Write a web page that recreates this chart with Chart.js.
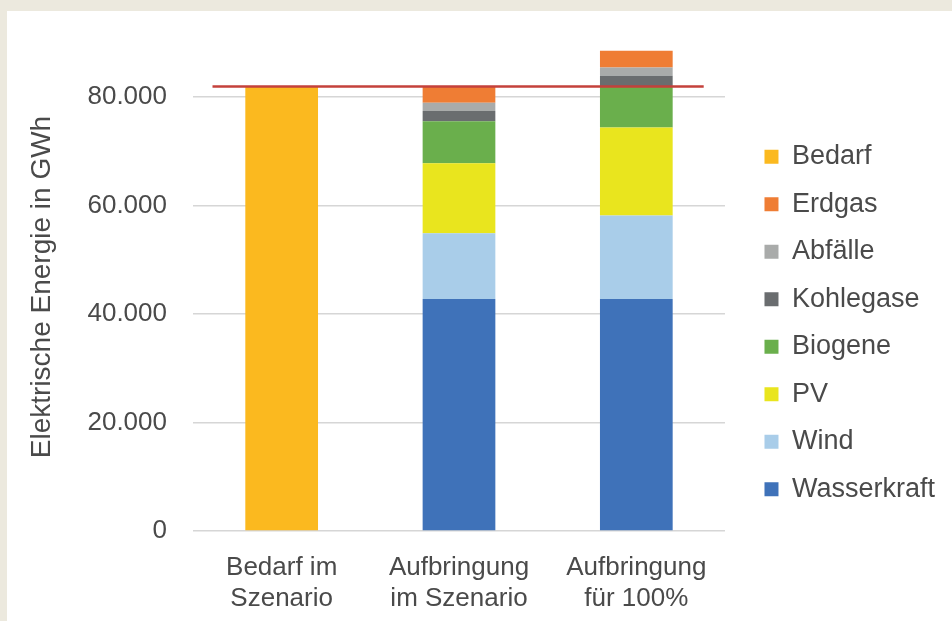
<!DOCTYPE html>
<html lang="de">
<head>
<meta charset="utf-8">
<title>Elektrische Energie – Bedarf und Aufbringung</title>
<script src="https://cdn.jsdelivr.net/npm/chart.js@4/dist/chart.umd.min.js"></script>
<style>
  html, body { margin: 0; padding: 0; background: #ECE9DE; }
  #panel { position: absolute; left: 7px; top: 11px; width: 945px; height: 610px; background: #fff; }
</style>
</head>
<body>
<div id="panel"><canvas id="chartEnergie"></canvas></div>
<script>
// ================== DATEN ==================
const categories = [['Bedarf im', 'Szenario'], ['Aufbringung', 'im Szenario'], ['Aufbringung', 'für 100%']];
const bedarf      = [82000, null, null];
const wasserkraft = [null, 42800, 42800];
const wind        = [null, 12100, 15400];
const pv          = [null, 12900, 16200];
const biogene     = [null, 7750, 7500];
const kohlegase   = [null, 1900, 2050];
const abfaelle    = [null, 1550, 1550];
const erdgas      = [null, 3000, 3050];
const bedarfLinie = 82000;
const yTicks      = [0, 20000, 40000, 60000, 80000];

const FONT = "'Liberation Sans', Arial, sans-serif";
const TEXT = '#4a4a4a';

// Tausenderpunkt wie im Original (80.000)
function fmt(v) {
  return String(v).replace(/\B(?=(\d{3})+(?!\d))/g, '.');
}

function barSet(label, data, color) {
  return { label, data, backgroundColor: color, borderWidth: 0, order: 1, grouped: false,
           barPercentage: 0.41, categoryPercentage: 1, xAxisID: 'x' };
}

// Legende etwas verschieben (wie im Original)
const legendShift = {
  id: 'legendShift',
  afterLayout(chart) {
    const lg = chart.legend;
    if (!lg) return;
    lg.left += 19; lg.right += 19;
    lg.top -= 9; lg.bottom -= 9;
  }
};

// ================== CHART ==================
const datasets = [
  {
    type: 'line', label: 'Bedarf-Linie', xAxisID: 'xl', order: 0,
    data: [{ x: -0.39, y: bedarfLinie }, { x: 2.38, y: bedarfLinie }],
    borderColor: '#C4413B', borderWidth: 2.5, pointRadius: 0, fill: false
  },
  barSet('Wasserkraft', wasserkraft, '#3F72B9'),
  barSet('Wind', wind, '#A9CDE9'),
  barSet('PV', pv, '#E9E51E'),
  barSet('Biogene', biogene, '#6AAF4C'),
  barSet('Kohlegase', kohlegase, '#6A6D6F'),
  barSet('Abfälle', abfaelle, '#A9ABAA'),
  barSet('Erdgas', erdgas, '#EF7D34'),
  barSet('Bedarf', bedarf, '#FBB91F')
];

new Chart(document.getElementById('chartEnergie'), {
  type: 'bar',
  data: { labels: categories, datasets },
  plugins: [legendShift],
  options: {
    responsive: true,
    maintainAspectRatio: false,
    animation: false,
    layout: { padding: { top: 32, right: 26, bottom: 0, left: 0 } },
    plugins: {
      tooltip: { enabled: false },
      legend: {
        position: 'right',
        reverse: true,
        labels: {
          color: TEXT,
          font: { family: FONT, size: 27 },
          boxWidth: 14, boxHeight: 14, padding: 20.5,
          filter: item => item.datasetIndex !== 0
        }
      }
    },
    scales: {
      x: {
        stacked: true,
        grid: { display: false },
        border: { display: false },
        ticks: { color: TEXT, font: { family: FONT, size: 26 }, padding: 13, maxRotation: 0 },
        afterFit: s => { s.height = 90; }
      },
      xl: { type: 'linear', min: -0.5, max: 2.5, offset: false, display: false },
      y: {
        stacked: true,
        min: 0, max: 90000,
        border: { display: false },
        // unsichtbare Tick-Striche statt Tick-Padding, damit der Plot oben nicht schrumpft
        grid: { color: '#D6D6D6', lineWidth: 1.5, drawTicks: true, tickLength: 26, tickColor: 'rgba(0,0,0,0)' },
        afterBuildTicks: s => { s.ticks = yTicks.map(v => ({ value: v })); },
        afterFit: s => { s.width = 186; },
        ticks: { color: TEXT, font: { family: FONT, size: 26 }, padding: 0, callback: v => fmt(v) },
        title: {
          display: true,
          text: 'Elektrische Energie in GWh',
          color: TEXT,
          font: { family: FONT, size: 28 },
          padding: { top: 18, bottom: 0 }
        }
      }
    }
  }
});
</script>
</body>
</html>
